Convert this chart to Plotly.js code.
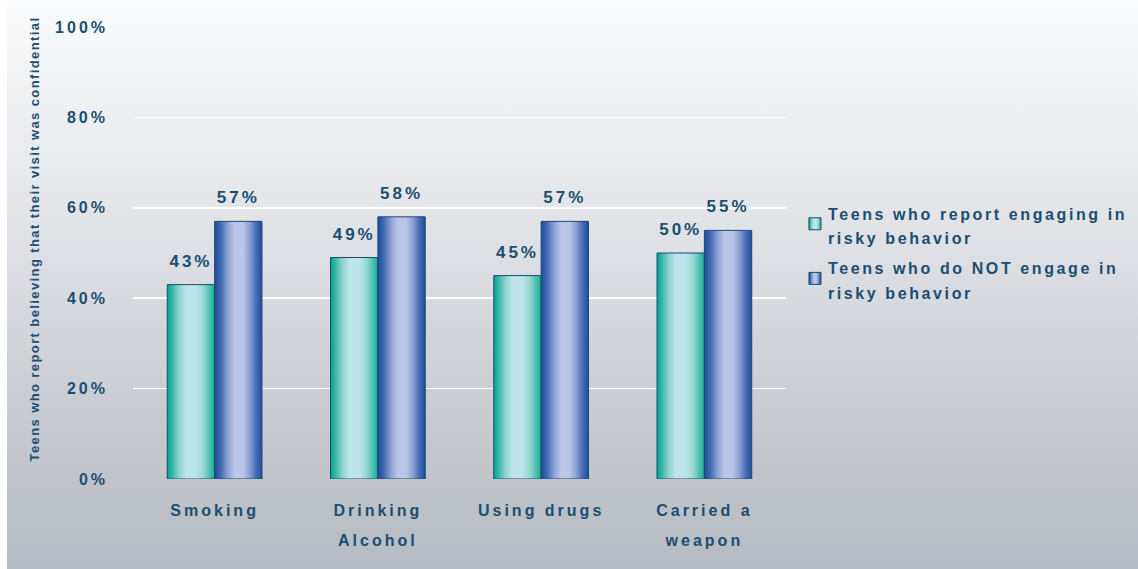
<!DOCTYPE html>
<html>
<head>
<meta charset="utf-8">
<script src="https://cdn.plot.ly/plotly-3.0.1.min.js"></script>
<style>
html, body { margin:0; padding:0; }
body { width:1138px; height:569px; overflow:hidden;
  background: linear-gradient(to right, #ffffff 0px, #ffffff 7px, transparent 7px),
              linear-gradient(to bottom, #fafbfc 0%, #e4e6ea 35%, #c6c9cf 75%, #b6bac2 100%); }
#chart { width:1138px; height:569px; }
svg text { letter-spacing: 3px; font-weight: 700 !important; }
.main-svg .ytitle { letter-spacing: 1.4px; }
.main-svg .legend text { letter-spacing: 2.6px; }
</style>
</head>
<body>
<div id="chart"></div>
<script>
const categories = ["Smoking", "Drinking<br>Alcohol", "Using drugs", "Carried a<br>weapon"];
const seriesNames = ["Teens who report engaging in<br>risky behavior", "Teens who do NOT engage in<br>risky behavior"];
const riskyValues = [43, 49, 45, 50];
const notRiskyValues = [57, 58, 57, 55];
const yTickVals = [0, 20, 40, 60, 80, 100];
const yTickText = ["0%", "20%", "40%", "60%", "80%", "100%"];
const yTitle = "Teens who report believing that their visit was confidential";

const navy = "#1b4e72";
const fontFam = "Liberation Sans, Arial, sans-serif";

const traces = [
  { type:"bar", x:categories, y:riskyValues, name:seriesNames[0], legendgroup:"a",
    marker:{ color:"#7fd0c8", line:{ color:"#1a4a6e", width:1 } },
    text: riskyValues.map(v => v + "%"), textposition:"outside", cliponaxis:false,
    textfont:{ family:fontFam, size:17, color:navy, weight:"bold" }, hoverinfo:"none" },
  { type:"bar", x:categories, y:notRiskyValues, name:seriesNames[1], legendgroup:"b",
    marker:{ color:"#7f95d0", line:{ color:"#1a4a6e", width:1 } },
    text: notRiskyValues.map(v => v + "%"), textposition:"outside", cliponaxis:false,
    textfont:{ family:fontFam, size:17, color:navy, weight:"bold" }, hoverinfo:"none" }
];

const layout = {
  width:1138, height:569,
  paper_bgcolor:"rgba(0,0,0,0)", plot_bgcolor:"rgba(0,0,0,0)",
  margin:{ l:133, r:352, t:27, b:90, pad:0, autoexpand:false },
  barmode:"group", bargap:0.42, bargroupgap:0,
  font:{ family:fontFam, color:navy, size:16, weight:"bold" },
  xaxis:{ tickfont:{ family:fontFam, size:16, color:navy, weight:"bold" },
    showline:false, showgrid:false, zeroline:false, ticks:"", ticklabelstandoff:20, fixedrange:true },
  yaxis:{ range:[0,100], tickvals:yTickVals, ticktext:yTickText,
    tickfont:{ family:fontFam, size:16, color:navy, weight:"bold" },
    showgrid:true, gridcolor:"#ffffff", gridwidth:1.5, zeroline:false, showline:false,
    ticks:"", ticklabelstandoff:24, automargin:false, fixedrange:true,
    title:{ text:yTitle, font:{ family:fontFam, size:13, color:navy, weight:"bold" }, standoff:12 } },
  legend:{ x:1.003, y:0.625, xanchor:"left", yanchor:"top", bgcolor:"rgba(0,0,0,0)",
    font:{ family:fontFam, size:16, color:navy, weight:"bold" }, tracegroupgap:10,
    traceorder:"grouped", itemwidth:30 },
  showlegend:true
};

function shiftEl(el, dx, dy) {
  const t = el.getAttribute("transform") || "";
  el.setAttribute("transform", t + " translate(" + dx + "," + dy + ")");
}
function preShiftEl(el, dx, dy) {
  const t = el.getAttribute("transform") || "";
  el.setAttribute("transform", "translate(" + dx + "," + dy + ") " + t);
}

function addGradients(gd) {
  const svg = gd.querySelector(".main-svg");
  const ns = "http://www.w3.org/2000/svg";
  let defs = svg.querySelector("defs");
  if (!defs) { defs = document.createElementNS(ns,"defs"); svg.prepend(defs); }
  function mk(id, stops) {
    const g = document.createElementNS(ns, "linearGradient");
    g.setAttribute("id", id); g.setAttribute("x1","0"); g.setAttribute("x2","1");
    g.setAttribute("y1","0"); g.setAttribute("y2","0");
    stops.forEach(([o,c]) => { const s = document.createElementNS(ns,"stop");
      s.setAttribute("offset", o); s.setAttribute("stop-color", c); g.appendChild(s); });
    defs.appendChild(g);
  }
  mk("gTeal", [[0,"#00a58e"],[0.1,"#36b5a5"],[0.25,"#8fd3d0"],[0.4,"#bde5e9"],[0.6,"#bde5e9"],[0.75,"#9bd8d6"],[0.88,"#58c2b3"],[1,"#14ad98"]]);
  mk("gBlue", [[0,"#1d4e9f"],[0.12,"#3f68b0"],[0.28,"#8ea2d4"],[0.42,"#bac6e8"],[0.6,"#bac6e8"],[0.74,"#8c9fd2"],[0.87,"#4a6fb8"],[1,"#1c4e9e"]]);
  const ids = ["gTeal","gBlue"];
  gd.querySelectorAll(".barlayer .trace.bars").forEach((t,i) => {
    t.querySelectorAll("path").forEach(p => p.style.fill = "url(#" + ids[i] + ")");
    t.querySelectorAll("text.bartext").forEach(tx => shiftEl(tx, 0, -11));
  });
  const sb = gd.querySelector(".legend .scrollbox");
  if (sb) sb.removeAttribute("clip-path");
  gd.querySelectorAll(".legend .traces").forEach((t,i) => {
    t.querySelectorAll(".legendpoints path").forEach(p => p.style.fill = "url(#" + ids[i] + ")");
    t.querySelectorAll(".legendpoints").forEach(p => shiftEl(p, 7, 0));
    t.querySelectorAll("text tspan.line").forEach(ts => {
      if (parseFloat(ts.getAttribute("dy")) > 0) ts.setAttribute("dy", "1.55em");
    });
  });
  gd.querySelectorAll(".xtick text tspan.line").forEach(ts => {
    if (parseFloat(ts.getAttribute("dy")) > 0) ts.setAttribute("dy", "1.85em");
  });
  const yt = gd.querySelector(".ytitle");
  if (yt) preShiftEl(yt, 0, -14);
}

Plotly.newPlot("chart", traces, layout, { staticPlot:true, displayModeBar:false }).then(addGradients);
</script>
</body>
</html>
